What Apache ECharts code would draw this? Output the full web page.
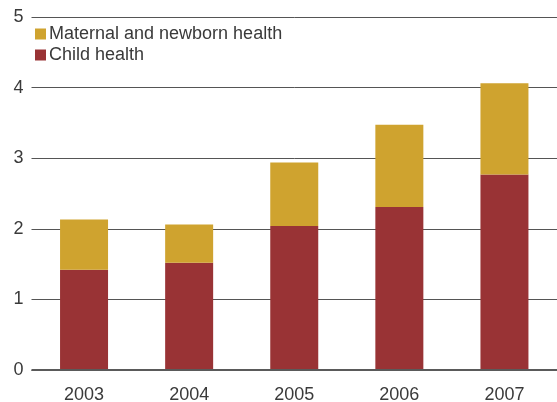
<!DOCTYPE html>
<html><head><meta charset="utf-8">
<script src="https://cdn.jsdelivr.net/npm/echarts@6/dist/echarts.min.js"></script>
<style>html,body{margin:0;padding:0;background:#fff}#c{width:557px;height:402px}</style>
</head><body><div id="c"></div>
<script>
var categories = ['2003','2004','2005','2006','2007'];
var childHealth = [1.42, 1.52, 2.04, 2.31, 2.77];
var maternalTotal = [2.13, 2.06, 2.94, 3.475, 4.06];
var maternalHealth = maternalTotal.map(function(t,i){return +(t - childHealth[i]).toFixed(3);});
var yTicks = [0,1,2,3,4,5];

var chart = echarts.init(document.getElementById('c'), null, {renderer:'canvas'});
var font = 'Liberation Sans, Arial, sans-serif';
chart.setOption({
  animation:false,
  backgroundColor:'#fff',
  grid:{left:31.5, right:0, top:17, bottom:32, containLabel:false, outerBoundsMode:'none'},
  legend:{
    orient:'vertical', left:30, top:20, itemWidth:11, itemHeight:11, itemGap:3,
    icon:'rect',
    data:['Maternal and newborn health','Child health'],
    textStyle:{fontFamily:font, fontSize:18, color:'#3a3a3a', padding:[0,0,0,-2]}
  },
  xAxis:{
    type:'category', data:categories,
    axisLine:{show:false}, axisTick:{show:false},
    axisLabel:{fontFamily:font, fontSize:18, color:'#3a3a3a', margin:16}
  },
  yAxis:{
    type:'value', min:yTicks[0], max:yTicks[yTicks.length-1], interval:1,
    axisLine:{show:false}, axisTick:{show:false},
    axisLabel:{fontFamily:font, fontSize:18, color:'#3a3a3a', margin:8},
    splitLine:{lineStyle:{color:'#555', width:1}}
  },
  series:[
    {name:'Child health', type:'bar', stack:'t', data:childHealth, barWidth:48,
     itemStyle:{color:'#993335'}},
    {name:'Maternal and newborn health', type:'bar', stack:'t', data:maternalHealth, barWidth:48,
     itemStyle:{color:'#CFA32F'}},
    {type:'line', data:[], markLine:{silent:true, symbol:'none', label:{show:false},
      lineStyle:{color:'#5a5a5a', width:2, type:'solid'}, data:[{yAxis:0}]}}
  ]
});
</script></body></html>
